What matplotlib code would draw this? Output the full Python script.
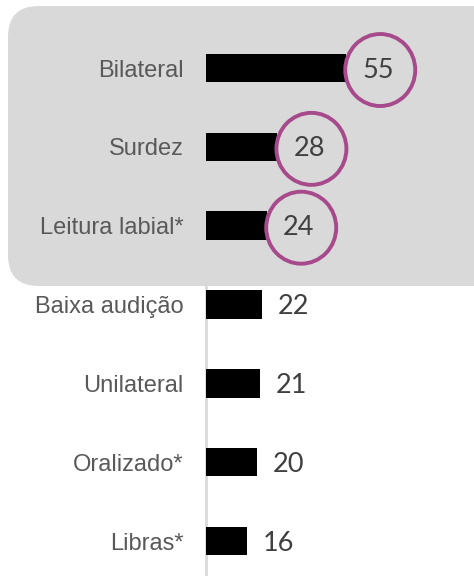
import matplotlib.pyplot as plt
from matplotlib.patches import FancyBboxPatch, Ellipse
from matplotlib.transforms import offset_copy

categories = ['Bilateral', 'Surdez', 'Leitura labial*', 'Baixa audição',
              'Unilateral', 'Oralizado*', 'Libras*']
values = [55, 28, 24, 22, 21, 20, 16]
highlighted = ['Bilateral', 'Surdez', 'Leitura labial*']

W, H = 474, 576
fig = plt.figure(figsize=(W / 100, H / 100), dpi=100)

ax = fig.add_axes([206 / W, 0, 255 / W, 1])
ax.patch.set_alpha(0)

# grey highlight box behind the top three rows
box_bottom = (H - 286) / H
box = FancyBboxPatch((8 / W, box_bottom), (466 + 30) / W, 280 / H,
                     boxstyle='round,pad=0,rounding_size=0.065',
                     transform=fig.transFigure, facecolor='#d9d9d9',
                     edgecolor='none', zorder=0.5, mutation_aspect=W / H,
                     clip_on=False)
ax.add_patch(box)

y = list(range(len(categories)))
ax.barh(y, values, height=0.36, color='black', zorder=3)
ax.set_xlim(0, 100)
ax.set_ylim(6.444, -0.863)

for s in ax.spines.values():
    s.set_visible(False)
# category axis line, only visible below the grey box
ax.plot([0, 0], [0, box_bottom], transform=ax.transAxes, color='#d9d9d9',
        linewidth=2, zorder=0.4, clip_on=False)
ax.set_xticks([])
ax.set_yticks(y)
ax.set_yticklabels(categories, fontsize=17, color='#595959',
                   family='Liberation Sans')
ax.tick_params(axis='y', length=0, pad=16)

for yi, v, c in zip(y, values, categories):
    tr = offset_copy(ax.transData, fig=fig, x=16 * 0.72, y=-2 * 0.72, units='points')
    ax.text(v, yi, str(v), transform=tr, ha='left', va='center',
            fontsize=19.5, color='#404040', family='Lato', zorder=4)
    if c in highlighted:
        ctr = offset_copy(ax.transData, fig=fig, x=34 * 0.72, y=-2 * 0.72, units='points')
        px, py = ctr.transform((v, yi))
        fx, fy = fig.transFigure.inverted().transform((px, py))
        e = Ellipse((fx, fy), 70 / W, 72 / H, transform=fig.transFigure,
                    facecolor='none', edgecolor='#a64a8c', linewidth=2.8,
                    zorder=5, clip_on=False)
        ax.add_patch(e)

fig.savefig('out.png', dpi=100)
